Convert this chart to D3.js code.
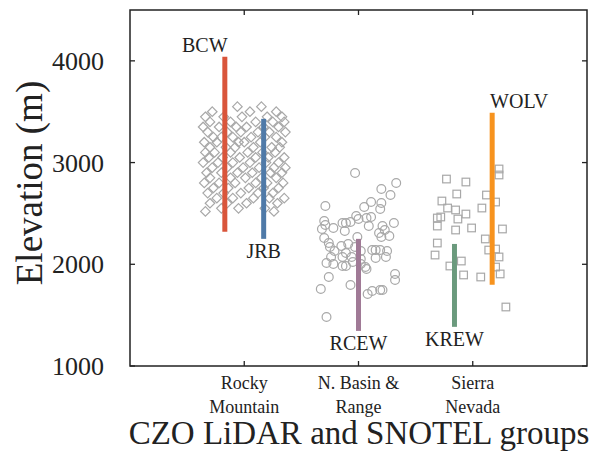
<!DOCTYPE html>
<html>
<head>
<meta charset="utf-8">
<script src="https://cdn.jsdelivr.net/npm/d3@7"></script>
<style>
  body { margin: 0; background: #fff; }
  text { font-family: "Liberation Serif", "Times New Roman", serif; fill: #222; }
</style>
</head>
<body>
<svg width="593" height="459"></svg>
<script>
// group labels on the x axis (positions 1..3)
var groups = [["Rocky", "Mountain"], ["N. Basin &", "Range"], ["Sierra", "Nevada"]];
var yTicks = [1000, 2000, 3000, 4000];

// sites: elevation range of each watershed
var siteNames = ["BCW", "JRB", "RCEW", "KREW", "WOLV"];
var siteX = [0.83, 1.17, 2.0, 2.84, 3.17];
var siteMin = [2320, 2250, 1345, 1385, 1800];
var siteMax = [4040, 3430, 2250, 2200, 3490];
var siteColors = ["#d9553b", "#4f7aa8", "#a07a96", "#6b9a7d", "#f7931e"];

// SNOTEL stations, [x position, elevation]
var rockyPts = [
  [0.94,3550],[1.15,3550],
  [0.72,3500],[1.05,3500],[1.28,3500],
  [0.66,3450],[0.82,3450],[0.98,3450],[1.20,3450],[1.33,3450],
  [0.70,3400],[0.88,3400],[1.10,3400],[1.25,3400],[1.35,3400],
  [0.64,3350],[0.78,3350],[0.93,3350],[1.02,3350],[1.17,3350],[1.30,3350],
  [0.68,3300],[0.85,3300],[0.97,3300],[1.12,3300],[1.22,3300],[1.36,3300],
  [0.73,3250],[0.80,3250],[0.90,3250],[1.06,3250],[1.18,3250],[1.28,3250],
  [0.65,3200],[0.76,3200],[0.95,3200],[1.00,3200],[1.14,3200],[1.33,3200],
  [0.70,3150],[0.84,3150],[0.92,3150],[1.08,3150],[1.24,3150],[1.31,3150],
  [0.66,3100],[0.74,3100],[0.88,3100],[1.03,3100],[1.16,3100],[1.27,3100],
  [0.69,3050],[0.81,3050],[0.96,3050],[1.10,3050],[1.21,3050],[1.35,3050],
  [0.64,3000],[0.77,3000],[0.90,3000],[1.05,3000],[1.19,3000],[1.30,3000],
  [0.72,2950],[0.85,2950],[0.99,2950],[1.13,2950],[1.26,2950],[1.36,2950],
  [0.67,2900],[0.80,2900],[0.94,2900],[1.07,2900],[1.23,2900],[1.33,2900],
  [0.70,2850],[0.88,2850],[1.01,2850],[1.15,2850],[1.28,2850],
  [0.65,2800],[0.78,2800],[0.92,2800],[1.10,2800],[1.20,2800],[1.34,2800],
  [0.73,2750],[0.86,2750],[1.04,2750],[1.17,2750],[1.30,2750],
  [0.68,2700],[0.82,2700],[0.97,2700],[1.12,2700],[1.25,2700],
  [0.76,2650],[0.90,2650],[1.08,2650],[1.22,2650],[1.35,2650],
  [0.70,2600],[0.85,2600],[1.02,2600],[1.29,2600],
  [0.80,2550],[0.95,2550],[1.18,2550],
  [0.66,2520],[1.26,2520]
];
var basinPts = [
  [1.97,2898],[2.33,2799],[2.20,2740],[2.28,2681],[2.11,2612],[2.20,2603],
  [2.05,2563],[1.71,2573],[2.19,2544],[1.98,2475],[2.07,2455],[2.11,2465],
  [2.31,2406],[1.70,2426],[1.71,2386],[1.86,2406],[1.89,2406],[1.93,2416],
  [2.00,2445],[1.68,2347],[1.78,2357],[1.88,2327],[2.09,2376],[2.21,2376],
  [2.23,2337],[2.18,2308],[2.20,2268],[2.27,2278],[1.70,2258],[1.74,2209],
  [1.75,2170],[1.79,2131],[1.85,2180],[1.91,2200],[1.97,2170],[1.99,2268],
  [1.89,2111],[2.02,2131],[2.12,2141],[2.15,2141],[2.19,2141],[2.25,2131],
  [2.15,2062],[2.24,2072],[1.76,2072],[1.86,2072],[1.94,2072],[1.72,2013],
  [1.78,2003],[1.86,1983],[1.89,1983],[1.95,2023],[2.02,2052],[2.06,1973],
  [2.07,1954],[1.74,1875],[1.93,1796],[1.67,1757],[2.32,1905],[2.32,1846],
  [2.08,1708],[2.12,1737],[2.19,1747],[2.21,1747],[1.72,1482],[2.02,2003]
];
var sierraPts = [
  [2.77,2838],[2.94,2809],[2.86,2691],[3.12,2681],[3.23,2937],[3.23,2878],
  [2.73,2622],[2.78,2553],[2.85,2534],[2.94,2494],[3.08,2553],[3.20,2612],
  [2.69,2455],[2.72,2465],[2.87,2445],[2.69,2376],[2.85,2337],[2.99,2357],
  [3.26,2347],[3.11,2249],[2.69,2209],[3.14,2140],[3.20,2150],[2.67,2091],
  [3.23,2072],[2.80,1983],[2.90,2032],[3.20,1973],[2.92,1895],[3.07,1875],
  [3.24,1905],[3.29,1580]
];

var svg = d3.select("svg");
var mLeft = 130, mRight = 587, mTop = 10, mBottom = 366;

var x = d3.scaleLinear().domain([0, 4]).range([mLeft, mRight]);
var y = d3.scaleLinear().domain([1000, 4500]).range([mBottom, mTop]);

var grey = "#a8a8a8";

// points
svg.append("g").selectAll("path")
  .data(rockyPts).enter().append("path")
  .attr("d", d3.symbol().type(d3.symbolDiamond2).size(58))
  .attr("transform", function(d) { return "translate(" + x(d[0]) + "," + y(d[1]) + ")"; })
  .attr("fill", "none").attr("stroke", grey).attr("stroke-width", 1.2);

svg.append("g").selectAll("circle")
  .data(basinPts).enter().append("circle")
  .attr("cx", function(d) { return x(d[0]); })
  .attr("cy", function(d) { return y(d[1]); })
  .attr("r", 4.4)
  .attr("fill", "none").attr("stroke", grey).attr("stroke-width", 1.2);

svg.append("g").selectAll("rect")
  .data(sierraPts).enter().append("rect")
  .attr("x", function(d) { return x(d[0]) - 3.8; })
  .attr("y", function(d) { return y(d[1]) - 3.8; })
  .attr("width", 7.6).attr("height", 7.6)
  .attr("fill", "none").attr("stroke", grey).attr("stroke-width", 1.2);

// site ranges
var sites = siteNames.map(function(n, i) {
  return { name: n, x: siteX[i], lo: siteMin[i], hi: siteMax[i], color: siteColors[i] };
});
svg.append("g").selectAll("line")
  .data(sites).enter().append("line")
  .attr("x1", function(d) { return x(d.x); })
  .attr("x2", function(d) { return x(d.x); })
  .attr("y1", function(d) { return y(d.lo); })
  .attr("y2", function(d) { return y(d.hi); })
  .attr("stroke", function(d) { return d.color; })
  .attr("stroke-width", 5);

// site labels: BCW & WOLV above, others below
var labelAbove = { BCW: -20, WOLV: 27 };
svg.append("g").selectAll("text")
  .data(sites).enter().append("text")
  .attr("x", function(d) { return x(d.x) + (labelAbove[d.name] !== undefined ? labelAbove[d.name] : 0); })
  .attr("y", function(d) { return d.name in labelAbove ? y(d.hi) - 5 : y(d.lo) + 19; })
  .attr("text-anchor", "middle")
  .style("font-size", "20px")
  .text(function(d) { return d.name; });

// frame and inward ticks
svg.append("rect")
  .attr("x", mLeft).attr("y", mTop)
  .attr("width", mRight - mLeft).attr("height", mBottom - mTop)
  .attr("fill", "none").attr("stroke", "#222").attr("stroke-width", 1.5);

var tk = 5;
var ticks = svg.append("g").attr("stroke", "#222").attr("stroke-width", 1.3);
yTicks.forEach(function(t) {
  ticks.append("line").attr("x1", mLeft).attr("x2", mLeft + tk).attr("y1", y(t)).attr("y2", y(t));
  ticks.append("line").attr("x1", mRight).attr("x2", mRight - tk).attr("y1", y(t)).attr("y2", y(t));
});
groups.forEach(function(g, i) {
  ticks.append("line").attr("x1", x(i + 1)).attr("x2", x(i + 1)).attr("y1", mBottom).attr("y2", mBottom - tk);
  ticks.append("line").attr("x1", x(i + 1)).attr("x2", x(i + 1)).attr("y1", mTop).attr("y2", mTop + tk);
});

// y tick labels
svg.append("g").selectAll("text")
  .data(yTicks).enter().append("text")
  .attr("x", 104)
  .attr("y", function(d) { return y(d) + 9; })
  .attr("text-anchor", "end")
  .style("font-size", "26px")
  .text(function(d) { return d; });

// group labels
var gl = svg.append("g").selectAll("text")
  .data(groups).enter().append("text")
  .attr("text-anchor", "middle")
  .style("font-size", "18px");
gl.append("tspan").attr("x", function(d, i) { return x(i + 1); }).attr("y", 389).text(function(d) { return d[0]; });
gl.append("tspan").attr("x", function(d, i) { return x(i + 1); }).attr("y", 413).text(function(d) { return d[1]; });

// axis titles
svg.append("text")
  .attr("x", 359).attr("y", 444)
  .attr("text-anchor", "middle")
  .style("font-size", "33px")
  .text("CZO LiDAR and SNOTEL groups");

svg.append("text")
  .attr("transform", "translate(42,183) rotate(-90)")
  .attr("text-anchor", "middle")
  .style("font-size", "37px")
  .text("Elevation (m)");
</script>
</body>
</html>
